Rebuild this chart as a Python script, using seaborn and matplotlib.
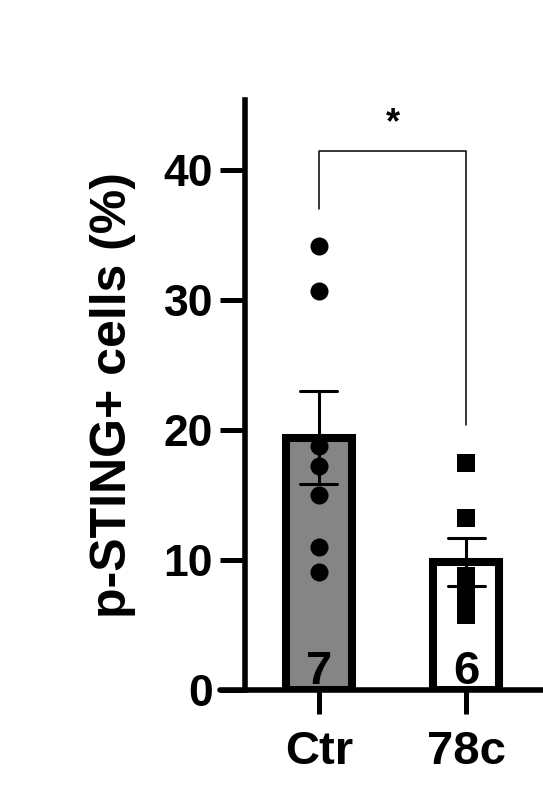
import numpy as np
import matplotlib
matplotlib.use("Agg")
import matplotlib.pyplot as plt
import seaborn as sns
import pandas as pd

# values
groups = ["Ctr", "78c"]
ctr_values = [34.2, 30.7, 18.8, 17.2, 15.0, 11.0, 9.1]
c78_values = [17.5, 13.2, 8.8, 7.2, 6.6, 5.8]
bar_colors = ["#858585", "white"]
y_ticks = [0, 10, 20, 30, 40]
y_label = "p-STING+ cells (%)"
sig_label = "*"

df = pd.DataFrame({
    "group": ["Ctr"] * len(ctr_values) + ["78c"] * len(c78_values),
    "value": ctr_values + c78_values,
})

sns.set_style("ticks")
plt.rcParams["font.family"] = ["Liberation Sans", "DejaVu Sans"]
plt.rcParams["font.weight"] = "bold"
plt.rcParams.update({
    "text.color": "black",
    "axes.labelcolor": "black",
    "axes.edgecolor": "black",
    "xtick.color": "black",
    "ytick.color": "black",
})

fig = plt.figure(figsize=(5.43, 7.95), dpi=100)
ax = fig.add_axes([245 / 543, 105 / 795, 298 / 543, 590 / 795])

sns.barplot(data=df, x="group", y="value", hue="group", order=groups,
            palette=bar_colors, legend=False, width=0.45,
            edgecolor="black", linewidth=5.8,
            errorbar="se", capsize=0.25,
            err_kws={"color": "black", "linewidth": 2.2, "zorder": 4}, ax=ax)

sns.stripplot(data=df[df.group == "Ctr"], x="group", y="value", order=groups,
              jitter=False, marker="o", size=13, color="black", zorder=3, ax=ax)
sns.stripplot(data=df[df.group == "78c"], x="group", y="value", order=groups,
              jitter=False, marker="s", size=13, color="black", zorder=3, ax=ax)

# n per group inside the bars
counts = df.groupby("group")["value"].count()
for i, g in enumerate(groups):
    ax.text(i, 0.5, str(counts[g]), ha="center", va="baseline",
            fontsize=34, fontweight="bold", color="black", zorder=5)

# significance bracket
top = max(max(ctr_values), max(c78_values)) + 7.3
ax.plot([0, 0, 1, 1],
        [max(ctr_values) + 2.8, top, top, max(c78_values) + 2.9],
        color="black", linewidth=1.1, clip_on=False)
ax.text(0.5, top + 0.7, sig_label, ha="center", va="bottom",
        fontsize=26, fontweight="bold", color="black")

ax.set_xlim(-0.5, 1.52)
ax.set_ylim(0, 45.4)
ax.set_yticks(y_ticks)
ax.set_xlabel("")
ax.set_ylabel(y_label, fontsize=36, fontweight="bold", color="black")
ax.yaxis.set_label_coords(-0.443, 0.5)
ax.yaxis.label.set(va="center", ha="center")

sns.despine(ax=ax)
ax.spines["left"].set_linewidth(4)
ax.spines["left"].set_color("black")
ax.spines["bottom"].set_visible(False)
ax.axhline(0, xmin=-25 / 298, xmax=1, color="black", linewidth=4,
           clip_on=False, zorder=6)

ax.tick_params(axis="both", width=3.6, length=18, color="black",
               labelsize=32, labelcolor="black")
ax.tick_params(axis="y", pad=5)
ax.tick_params(axis="x", length=17, pad=12, labelsize=34)
for lab in ax.get_xticklabels() + ax.get_yticklabels():
    lab.set_fontweight("bold")

fig.savefig("out.png", dpi=100)
